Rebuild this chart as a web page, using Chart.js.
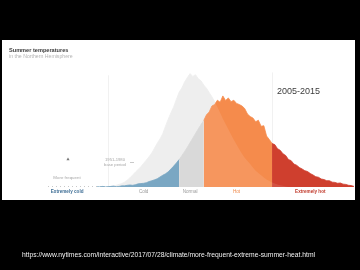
<!DOCTYPE html>
<html><head><meta charset="utf-8">
<script src="https://cdn.jsdelivr.net/npm/chart.js@4"></script>
<style>html,body{margin:0;padding:0;background:#000;overflow:hidden}canvas{display:block}</style>
</head><body><canvas id="c" width="360" height="270"></canvas>
<script>
const titleText = 'Summer temperatures';
const subtitleText = 'in the Northern Hemisphere';
const periodLabel = '2005-2015';
const baseLabel = ['1951-1980', 'base period'];
const axisHint = 'More frequent';
const sourceUrl = 'https://www.nytimes.com/interactive/2017/07/28/climate/more-frequent-extreme-summer-heat.html';

// temperature anomaly (in base-period standard deviations), 2005-2015 series
const recentX = [-3.4,-3.3,-3.2,-3.1,-3.0,-2.9,-2.8,-2.7,-2.6,-2.5,-2.4,-2.3,-2.2,-2.1,-2.0,-1.9,-1.8,-1.7,-1.6,-1.5,-1.4,-1.3,-1.2,-1.1,-1.0,-0.9,-0.8,-0.7,-0.6,-0.5,-0.4,-0.3,-0.2,-0.1,
  0.0,0.1,0.2,0.3,0.4,0.5,0.6,0.7,0.8,0.9,1.0,1.1,1.2,1.3,1.4,1.5,1.6,1.7,1.8,1.9,2.0,2.1,2.2,2.3,2.4,2.5,2.6,2.7,2.8,2.9,3.0,3.1,3.2,3.3,3.4,3.5,3.6,3.7,3.8,3.9,4.0,4.1,4.2,4.3,4.4,4.5,4.6,4.7,4.8,4.9,5.0,5.1,5.2,5.3,5.4,5.5,5.6,5.7,5.8,5.9,6.0];
const recentDensity = [0.001,0.000,0.002,0.000,0.001,0.002,0.003,0.001,0.002,0.004,0.004,0.006,0.007,0.006,0.008,0.011,0.012,0.013,0.015,0.019,0.022,0.025,0.029,0.035,0.041,0.046,0.053,0.063,0.073,0.084,0.096,0.110,0.124,0.139,
  0.155,0.171,0.187,0.203,0.218,0.232,0.252,0.262,0.283,0.288,0.303,0.296,0.318,0.302,0.311,0.298,0.303,0.292,0.288,0.283,0.274,0.255,0.246,0.241,0.228,0.233,0.212,0.214,0.178,0.166,0.152,0.148,0.134,0.128,0.116,0.110,0.096,0.092,0.080,0.076,0.068,0.063,0.057,0.054,0.047,0.042,0.036,0.034,0.028,0.026,0.022,0.022,0.017,0.016,0.013,0.014,0.010,0.009,0.006,0.005,0.002];
// 1951-1980 base period series
const baseX = [-3.4,-3.3,-3.2,-3.1,-3.0,-2.9,-2.8,-2.7,-2.6,-2.5,-2.4,-2.3,-2.2,-2.1,-2.0,-1.9,-1.8,-1.7,-1.6,-1.5,-1.4,-1.3,-1.2,-1.1,-1.0,-0.9,-0.8,-0.7,-0.6,-0.5,-0.4,-0.3,-0.2,-0.1,
  0.0,0.1,0.2,0.3,0.4,0.5,0.6,0.7,0.8,0.9,1.0,1.1,1.2,1.3,1.4,1.5,1.6,1.7,1.8,1.9,2.0,2.1,2.2,2.3,2.4,2.5,2.6,2.7,2.8,2.9,3.0,3.1,3.2,3.3,3.4,3.5,3.6];
const baseDensity = [0,0,0,0.001,0.001,0.002,0.003,0.006,0.009,0.012,0.017,0.024,0.032,0.042,0.052,0.061,0.071,0.083,0.094,0.106,0.119,0.136,0.153,0.168,0.186,0.212,0.237,0.259,0.280,0.306,0.331,0.346,0.367,0.382,
  0.396,0.386,0.392,0.378,0.371,0.356,0.345,0.330,0.315,0.298,0.279,0.259,0.238,0.220,0.202,0.183,0.165,0.148,0.132,0.116,0.102,0.091,0.080,0.068,0.057,0.049,0.041,0.033,0.026,0.021,0.016,0.012,0.009,0.006,0.004,0.002,0];

const zoneEdges = [-3.0, -0.4, 0.5, 3.0];
const zoneNames = ['Extremely cold', 'Cold', 'Normal', 'Hot', 'Extremely hot'];
const zoneLabelX = [-4.5, -1.7, 0.0, 1.7, 4.4];
const zoneFill = ['#6b9dbd', '#6b9dbd', '#d5d5d5', '#f58b4c', '#cf3f2e'];
const zoneText = ['#3f6f96', '#9a9a9a', '#9a9a9a', '#f08a4b', '#c0392b'];
const zoneBold = [true, false, false, false, true];

function zoneIndex(x) {
  let i = 0;
  while (i < zoneEdges.length && x >= zoneEdges[i] - 1e-9) i++;
  return i;
}

const recentPts = recentX.map((x, i) => ({x, y: recentDensity[i]}));
const basePts = baseX.map((x, i) => ({x, y: baseDensity[i]}));

const FONT = 'Helvetica, "Liberation Sans", Arial, sans-serif';

const panelPlugin = {
  id: 'panel',
  beforeDraw(chart) {
    const ctx = chart.ctx;
    ctx.save();
    ctx.fillStyle = '#000';
    ctx.fillRect(0, 0, chart.width, chart.height);
    ctx.fillStyle = '#fff';
    ctx.fillRect(2, 40, 353, 160);
    ctx.restore();
  },
  beforeDatasetsDraw(chart) {
    const ctx = chart.ctx, xs = chart.scales.x, ys = chart.scales.y;
    ctx.save();
    ctx.strokeStyle = '#f1f1f1';
    ctx.lineWidth = 1;
    [[zoneEdges[0], 0.39], [zoneEdges[3], 0.40]].forEach(([e, top]) => {
      const px = Math.round(xs.getPixelForValue(e)) + 0.5;
      ctx.beginPath();
      ctx.moveTo(px, ys.getPixelForValue(top));
      ctx.lineTo(px, ys.getPixelForValue(0));
      ctx.stroke();
    });
    ctx.strokeStyle = '#c8c8c8';
    ctx.setLineDash([1, 3]);
    ctx.beginPath();
    const by = Math.round(ys.getPixelForValue(0)) - 0.5;
    ctx.moveTo(xs.left, by);
    ctx.lineTo(xs.getPixelForValue(-2.3), by);
    ctx.stroke();
    ctx.restore();
  },
  afterDatasetsDraw(chart) {
    const ctx = chart.ctx, xs = chart.scales.x;
    ctx.save();
    ctx.textBaseline = 'middle';
    ctx.textAlign = 'left';
    ctx.fillStyle = '#3a3a3a';
    ctx.font = 'bold 5.6px ' + FONT;
    ctx.fillText(titleText, 9, 50.5);
    ctx.fillStyle = '#b4b4b4';
    ctx.font = '5.2px ' + FONT;
    ctx.fillText(subtitleText, 9, 56.8);
    ctx.fillStyle = '#3c3c3c';
    ctx.font = '9px ' + FONT;
    ctx.fillText(periodLabel, 277, 92);
    ctx.textAlign = 'center';
    ctx.fillStyle = '#a8a8a8';
    ctx.font = '4.4px ' + FONT;
    ctx.fillText(axisHint, 67, 178);
    ctx.fillStyle = '#777';
    ctx.beginPath();
    ctx.moveTo(68, 157.5); ctx.lineTo(69.6, 160.2); ctx.lineTo(66.4, 160.2); ctx.closePath();
    ctx.fill();
    ctx.fillStyle = '#a8a8a8';
    ctx.font = '4.2px ' + FONT;
    ctx.fillText(baseLabel[0], 115, 160);
    ctx.fillText(baseLabel[1], 115, 164.6);
    ctx.strokeStyle = '#bbb';
    ctx.lineWidth = 0.8;
    ctx.beginPath(); ctx.moveTo(130, 162.5); ctx.lineTo(134, 162.5); ctx.stroke();
    zoneNames.forEach((n, i) => {
      ctx.fillStyle = zoneText[i];
      ctx.font = (zoneBold[i] ? 'bold ' : '') + '4.6px ' + FONT;
      ctx.fillText(n, xs.getPixelForValue(zoneLabelX[i]), 191.5);
    });
    ctx.textAlign = 'left';
    ctx.fillStyle = '#f2f2f2';
    ctx.font = '6.3px "Liberation Sans", Arial, sans-serif';
    const w = ctx.measureText(sourceUrl).width;
    ctx.save();
    ctx.translate(22, 255.5);
    ctx.scale(293 / w, 1);
    ctx.fillText(sourceUrl, 0, 0);
    ctx.restore();
    ctx.restore();
  }
};

new Chart(document.getElementById('c'), {
  type: 'line',
  data: {
    datasets: [
      {
        data: basePts, order: 1, fill: 'origin',
        backgroundColor: 'rgba(255,255,255,0.1)', borderWidth: 0, pointRadius: 0
      },
      {
        data: recentPts, order: 2, fill: 'origin', borderWidth: 0.8, pointRadius: 0,
        backgroundColor: zoneFill[3], borderColor: zoneFill[3],
        segment: {
          backgroundColor: c => zoneFill[zoneIndex(c.p0.parsed.x)],
          borderColor: c => zoneFill[zoneIndex(c.p0.parsed.x)]
        }
      },
      {
        data: basePts, order: 3, fill: 'origin',
        backgroundColor: '#ededed', borderColor: '#ededed', borderWidth: 0.8, pointRadius: 0
      }
    ]
  },
  options: {
    responsive: false, animation: false, devicePixelRatio: 1,
    layout: { padding: { left: 48, right: 6, top: 61, bottom: 83 } },
    elements: { line: { tension: 0 } },
    scales: {
      x: { type: 'linear', min: -5.2, max: 6, display: false },
      y: { min: 0, max: 0.44, display: false }
    },
    plugins: { legend: { display: false }, tooltip: { enabled: false } }
  },
  plugins: [panelPlugin]
});
</script>
</body></html>
